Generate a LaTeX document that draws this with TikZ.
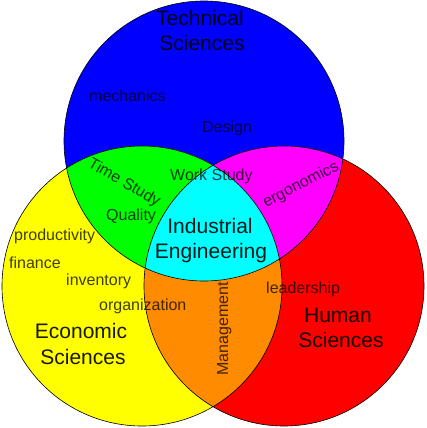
\documentclass[tikz,border=0pt]{standalone}
\usepackage{fontspec}
\setmainfont{Liberation Sans}
\definecolor{myorange}{RGB}{255,140,0}
\definecolor{myblue}{RGB}{0,0,255}
\definecolor{myred}{RGB}{255,0,0}
\definecolor{myyellow}{RGB}{255,255,0}
\definecolor{mygreen}{RGB}{0,255,0}
\definecolor{mymagenta}{RGB}{255,0,255}
\definecolor{mycyan}{RGB}{0,255,255}
\begin{document}
\begin{tikzpicture}[x=1pt,y=-1pt,
  lbl/.style={font=\fontsize{16}{19}\selectfont, text=black, text opacity=0.75, inner sep=0pt, anchor=base west},
  rlbl/.style={font=\fontsize{16}{19}\selectfont, text=black, text opacity=0.75, inner sep=0pt},
  big/.style={font=\fontsize{21}{25}\selectfont, text=black, text opacity=0.9, inner sep=0pt, anchor=base},
  ring/.style={draw=black, line width=0.6pt}]
\useasboundingbox (0,0) rectangle (426,428);
\def\circr{140pt}
\coordinate (T) at (204,141);
\coordinate (E) at (142,286);
\coordinate (H) at (284,286);
\fill[myblue] (T) circle[radius=\circr];
\fill[myyellow] (E) circle[radius=\circr];
\fill[myred] (H) circle[radius=\circr];
\begin{scope}
  \clip (T) circle[radius=\circr];
  \fill[mygreen] (E) circle[radius=\circr];
  \fill[mymagenta] (H) circle[radius=\circr];
\end{scope}
\begin{scope}
  \clip (E) circle[radius=\circr];
  \fill[myorange] (H) circle[radius=\circr];
\end{scope}
\begin{scope}
  \clip (T) circle[radius=\circr];
  \clip (E) circle[radius=\circr];
  \fill[mycyan] (H) circle[radius=\circr];
\end{scope}
\draw[ring] (T) circle[radius=\circr];
\draw[ring] (E) circle[radius=\circr];
\draw[ring] (H) circle[radius=\circr];
% big labels
\node[big] (ts1) at (200,26) {Technical};
\node[big] (ts2) at (202,51) {Sciences};
\node[big] (ie1) at (210,233) {Industrial};
\node[big] (ie2) at (211,258) {Engineering};
\node[big] (es1) at (81,338) {Economic};
\node[big] (es2) at (83,364) {Sciences};
\node[big] (hs1) at (338,322) {Human};
\node[big] (hs2) at (341,347) {Sciences};
% small labels
\node[lbl] (mech) at (89,101) {mechanics};
\node[lbl] (des) at (202,132) {Design};
\node[lbl] (ws) at (170,180) {Work Study};
\node[lbl] (qual) at (106,220) {Quality};
\node[rlbl, rotate=-30] (tst) at (124,183) {Time Study};
\node[rlbl, rotate=27] (erg) at (301,185) {ergonomics};
\node[lbl] (prod) at (14,240) {productivity};
\node[lbl] (fin) at (9,268) {finance};
\node[lbl] (inv) at (66,285) {inventory};
\node[lbl] (org) at (99,310) {organization};
\node[lbl] (lead) at (266,293) {leadership};
\node[rlbl, rotate=90, anchor=base] (mgmt) at (228,329) {Management};
\end{tikzpicture}
\end{document}
